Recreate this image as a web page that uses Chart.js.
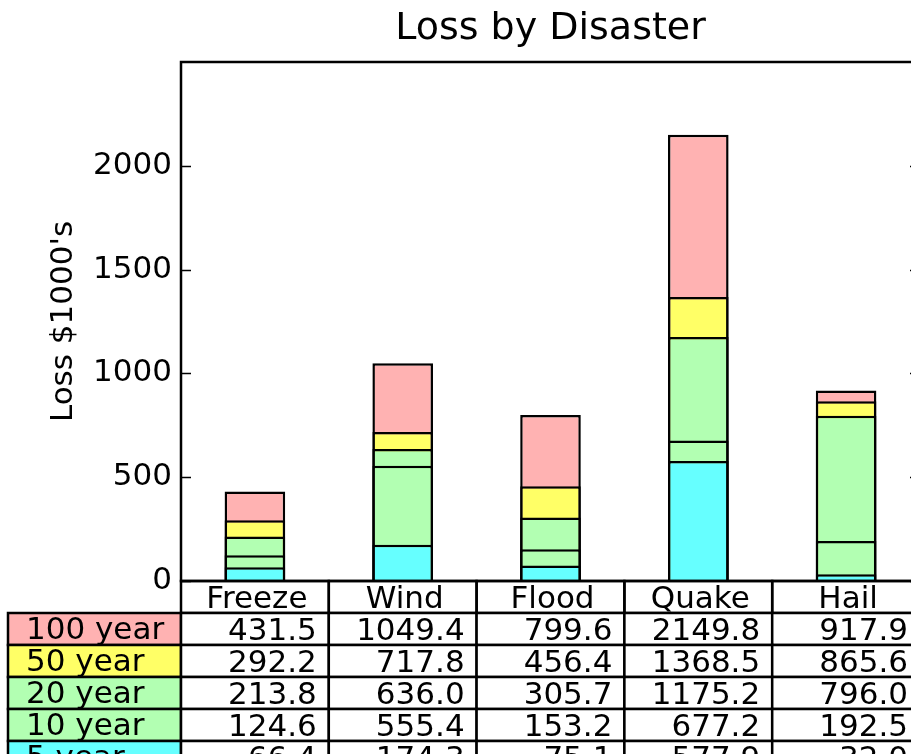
<!DOCTYPE html>
<html>
<head>
<meta charset="utf-8">
<script src="https://cdn.jsdelivr.net/npm/chart.js"></script>
<style>
  html, body { margin: 0; padding: 0; background: #fff; overflow: hidden; }
  #wrap { width: 930px; height: 754px; }
</style>
</head>
<body>
<div id="wrap"><canvas id="myChart" width="930" height="754"></canvas></div>
<script>
const categories = ['Freeze', 'Wind', 'Flood', 'Quake', 'Hail'];
const rowLabels = ['100 year', '50 year', '20 year', '10 year', '5 year'];

// the table shows running totals, i.e. the top of each coloured band
const year100 = [431.5, 1049.4, 799.6, 2149.8, 917.9];
const year50 = [292.2, 717.8, 456.4, 1368.5, 865.6];
const year20 = [213.8, 636.0, 305.7, 1175.2, 796.0];
const year10 = [124.6, 555.4, 153.2, 677.2, 192.5];
const year5 = [66.4, 174.3, 75.1, 577.9, 32.0];

const rowColors = ['#ffb2b2', '#ffff66', '#b2ffb2', '#b2ffb2', '#66ffff'];
const yTicks = [0, 500, 1000, 1500, 2000];

const rows = [year100, year50, year20, year10, year5];
const FONT = '"DejaVu Sans", sans-serif';
const LINE = 2.5;

Chart.defaults.font.family = FONT;
Chart.defaults.color = '#000';

// frame round the plot with inward ticks on both sides, plus the title
const framePlugin = {
  id: 'frame',
  afterDatasetsDraw(chart) {
    const {ctx, chartArea: a} = chart;
    const y = chart.scales.y;
    ctx.save();
    ctx.strokeStyle = '#000';
    ctx.lineWidth = 1.5;
    yTicks.forEach(v => {
      const py = Math.round(y.getPixelForValue(v)) + 0.5;
      ctx.beginPath();
      ctx.moveTo(a.left, py); ctx.lineTo(a.left + 10, py);
      ctx.moveTo(a.right, py); ctx.lineTo(a.right - 10, py);
      ctx.stroke();
    });
    ctx.lineWidth = LINE;
    ctx.strokeRect(a.left, a.top, a.right - a.left, a.bottom - a.top);

    ctx.fillStyle = '#000';
    ctx.font = '38px ' + FONT;
    ctx.textAlign = 'center';
    ctx.textBaseline = 'alphabetic';
    ctx.fillText('Loss by Disaster', (a.left + a.right) / 2, 39);
    ctx.restore();
  }
};

// the data table under the axis
const tablePlugin = {
  id: 'lossTable',
  afterDraw(chart) {
    const {ctx, chartArea: a} = chart;
    const x = chart.scales.x;
    const band = (a.right - a.left) / categories.length;
    const rowH = 32;
    const labelLeft = 8;
    const top = a.bottom;
    ctx.save();
    ctx.font = '31px ' + FONT;
    ctx.lineWidth = LINE;
    ctx.strokeStyle = '#000';
    ctx.textBaseline = 'alphabetic';

    categories.forEach((c, j) => {
      const cx = x.getPixelForValue(j);
      ctx.strokeRect(cx - band / 2, top, band, rowH);
      ctx.fillStyle = '#000';
      ctx.textAlign = 'center';
      ctx.fillText(c, cx + 2, top + rowH / 2 + 11);
    });

    rows.forEach((vals, i) => {
      const ry = top + rowH * (i + 1);
      ctx.fillStyle = rowColors[i];
      ctx.fillRect(labelLeft, ry, a.left - labelLeft, rowH);
      ctx.strokeRect(labelLeft, ry, a.left - labelLeft, rowH);
      ctx.fillStyle = '#000';
      ctx.textAlign = 'left';
      ctx.fillText(rowLabels[i], labelLeft + 18, ry + rowH / 2 + 10);

      vals.forEach((v, j) => {
        const cx = x.getPixelForValue(j);
        ctx.fillStyle = '#fff';
        ctx.fillRect(cx - band / 2, ry, band, rowH);
        ctx.strokeRect(cx - band / 2, ry, band, rowH);
        ctx.fillStyle = '#000';
        ctx.textAlign = 'right';
        ctx.fillText(v.toFixed(1), cx + band / 2 - 12, ry + rowH / 2 + 11);
      });
    });
    ctx.restore();
  }
};

const ctx = document.getElementById('myChart');

new Chart(ctx, {
  type: 'bar',
  data: {
    labels: categories,
    datasets: rows.map((vals, i) => ({
      label: rowLabels[i],
      data: vals,
      backgroundColor: rowColors[i],
      borderColor: '#000',
      borderWidth: LINE,
      borderSkipped: 'start',
      grouped: false,
      order: rows.length - i,
      barPercentage: 0.41,
      categoryPercentage: 1
    }))
  },
  options: {
    responsive: false,
    animation: false,
    layout: { padding: { left: 0, right: 10, top: 62, bottom: 173 } },
    plugins: {
      legend: { display: false },
      tooltip: { enabled: false },
      title: { display: false }
    },
    scales: {
      x: { display: false, stacked: false },
      y: {
        stacked: false,
        min: 0,
        max: 2500,
        afterBuildTicks: s => { s.ticks = yTicks.map(v => ({ value: v })); },
        afterFit: s => { s.width = 181; },
        grid: { display: false, drawTicks: false, tickLength: 0 },
        border: { display: false },
        ticks: {
          padding: 9,
          color: '#000',
          font: { size: 31 },
          callback: v => String(v)
        },
        title: {
          display: true,
          text: "Loss $1000's",
          color: '#000',
          font: { size: 31 },
          padding: { top: 45, bottom: 0 }
        }
      }
    }
  },
  plugins: [framePlugin, tablePlugin]
});
</script>
</body>
</html>
